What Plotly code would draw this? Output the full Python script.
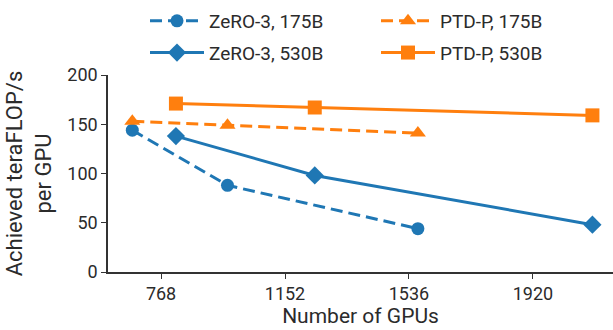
import plotly.graph_objects as go

gpus_175b = [384, 768, 1536]
gpus_530b = [560, 1120, 2240]
zero3_175b = [144, 88, 44]
zero3_530b = [138, 98, 48]
ptdp_175b = [153, 149, 141]
ptdp_530b = [171, 167, 159]

tick_vals = [500, 1000, 1500, 2000]
tick_text = ["768", "1152", "1536", "1920"]

blue = "#1f77b4"
orange = "#ff7f0e"
font = "Roboto"
txt = "#2b2b2b"

fig = go.Figure()
fig.add_trace(go.Scatter(x=gpus_175b, y=zero3_175b, name="ZeRO-3, 175B", mode="lines+markers",
                         line=dict(color=blue, width=3, dash="12px,6px"),
                         marker=dict(symbol="circle", size=13, color=blue),
                         legend="legend", legendgroup="a"))
fig.add_trace(go.Scatter(x=gpus_530b, y=zero3_530b, name="ZeRO-3, 530B", mode="lines+markers",
                         line=dict(color=blue, width=3),
                         marker=dict(symbol="diamond", size=14, color=blue),
                         legend="legend", legendgroup="b"))
fig.add_trace(go.Scatter(x=gpus_175b, y=ptdp_175b, name="PTD-P, 175B", mode="lines+markers",
                         line=dict(color=orange, width=3, dash="12px,6px"),
                         marker=dict(symbol="triangle-up", size=14, color=orange),
                         legend="legend2", legendgroup="c"))
fig.add_trace(go.Scatter(x=gpus_530b, y=ptdp_530b, name="PTD-P, 530B", mode="lines+markers",
                         line=dict(color=orange, width=3),
                         marker=dict(symbol="square", size=14, color=orange),
                         legend="legend2", legendgroup="d"))

axis_common = dict(showline=True, linecolor="#333333", linewidth=1.5, ticks="outside",
                   ticklen=5, tickcolor="#333333", showgrid=False, zeroline=False,
                   tickfont=dict(family=font, size=18, color=txt))

legend_common = dict(yref="paper", xref="paper", xanchor="left", yanchor="top",
                     bgcolor="rgba(0,0,0,0)", font=dict(family=font, size=19, color=txt),
                     tracegroupgap=4, itemwidth=54)

# plot area pixels: left 108, right 613, top 75, bottom 272
pw = 613 - 108
ph = 272 - 75

fig.update_layout(
    width=613, height=330,
    margin=dict(l=108, r=0, t=75, b=58, autoexpand=False),
    paper_bgcolor="white", plot_bgcolor="white",
    font=dict(family=font, size=18, color=txt),
    xaxis=dict(range=[286, 2323], tickvals=tick_vals, ticktext=tick_text,
               title=dict(text="Number of GPUs", font=dict(family=font, size=21, color=txt), standoff=0),
               **axis_common),
    yaxis=dict(range=[0, 200], tickvals=[0, 50, 100, 150, 200],
               title=dict(text="Achieved teraFLOP/s<br>per GPU", font=dict(family=font, size=22, color=txt), standoff=10),
               **axis_common),
    legend=dict(x=(145 - 108) / pw, y=1 + (75 - 2) / ph, **legend_common),
    legend2=dict(x=(376 - 108) / pw, y=1 + (75 - 2) / ph, **legend_common),
    showlegend=True,
)

fig.write_html("out.html", config={"displayModeBar": False},
               post_script="document.body.style.margin='0';document.body.style.overflow='hidden';")
